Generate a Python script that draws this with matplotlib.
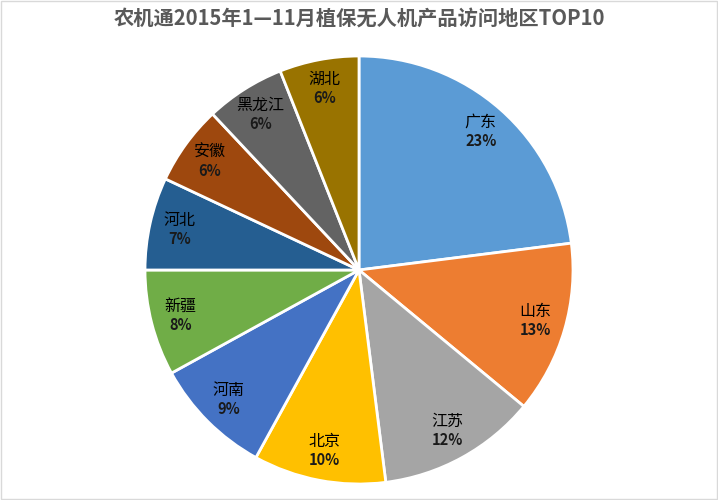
import numpy as np
import matplotlib
matplotlib.use("Agg")
import matplotlib.pyplot as plt
from matplotlib.patches import Rectangle

plt.rcParams["font.family"] = ["Noto Sans CJK SC", "DejaVu Sans"]

regions = ["广东", "山东", "江苏", "北京", "河南", "新疆", "河北", "安徽", "黑龙江", "湖北"]
shares = [23, 13, 12, 10, 9, 8, 7, 6, 6, 6]
colors = ["#5B9BD5", "#ED7D31", "#A5A5A5", "#FFC000", "#4472C4",
          "#70AD47", "#255E91", "#9E480E", "#636363", "#997300"]

TITLE = "农机通2015年1—11月植保无人机产品访问地区TOP10"

fig = plt.figure(figsize=(7.18, 5.0), dpi=100)
fig.patch.set_facecolor("white")

# pie centre ~ (359, 270) px, radius ~214 px
cx, cy, r = 359, 270, 214
ax = fig.add_axes([(cx - r) / 718, (500 - cy - r) / 500, 2 * r / 718, 2 * r / 500])

wedges, _ = ax.pie(shares, colors=colors, startangle=90, counterclock=False,
                   wedgeprops=dict(edgecolor="white", linewidth=2))
ax.set_xlim(-1, 1); ax.set_ylim(-1, 1)
ax.set_aspect("equal")

label_r = 0.86
for w, name, val in zip(wedges, regions, shares):
    ang = np.deg2rad((w.theta1 + w.theta2) / 2)
    x, y = label_r * np.cos(ang), label_r * np.sin(ang)
    ax.text(x, y + 0.005, name, ha="center", va="bottom", fontsize=11.5, color="black")
    ax.text(x, y - 0.005, f"{val}%", ha="center", va="top", fontsize=10.5,
            fontweight="bold", color="#1a1a1a")

fig.text(0.5, 1 - 19 / 500, TITLE, ha="center", va="center", fontsize=14.6,
         fontweight="bold", color="#595959")

fig.patches.append(Rectangle((0.002, 0.002), 0.996, 0.996, transform=fig.transFigure,
                             fill=False, edgecolor="#D9D9D9", linewidth=1))

plt.savefig("out.png", dpi=100)
plt.close()
